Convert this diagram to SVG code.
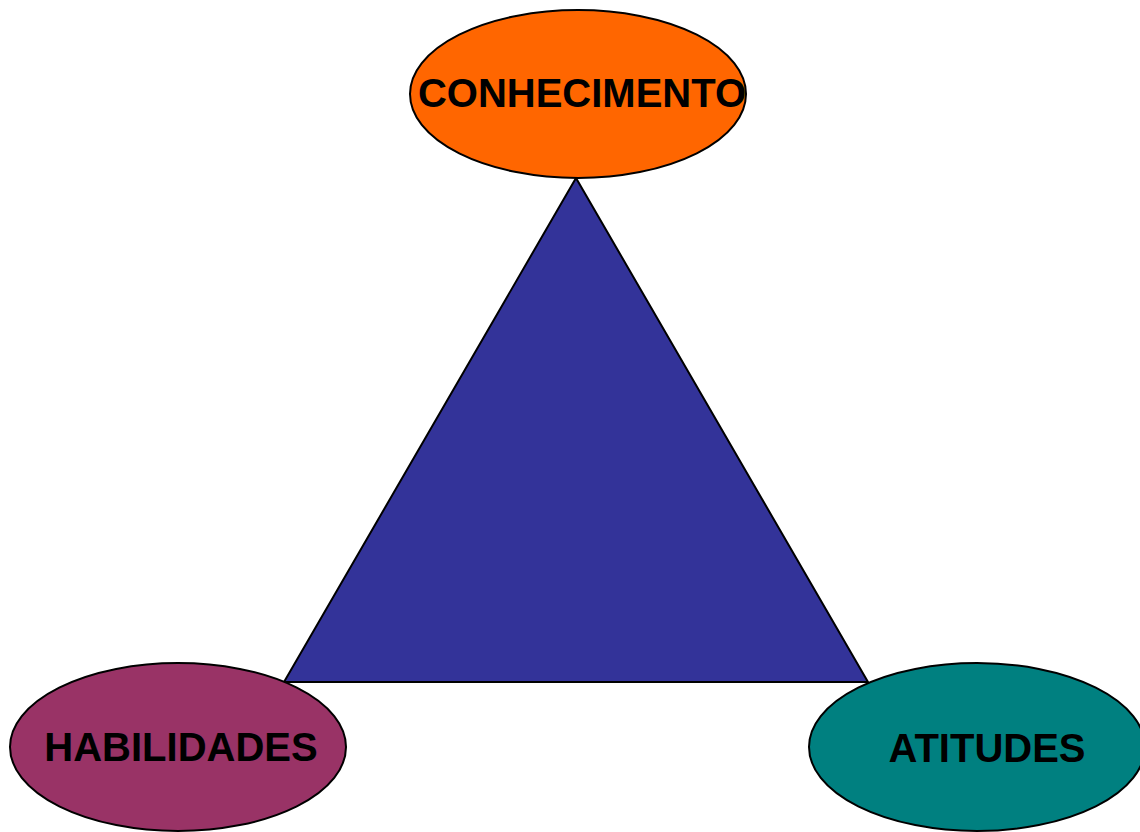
<svg xmlns="http://www.w3.org/2000/svg" width="1140" height="832" viewBox="0 0 1140 832">
<style>
.n{stroke:#000;stroke-width:2}
.t{font-family:"Liberation Sans",Arial,sans-serif;font-weight:bold;font-size:40px;fill:#000;text-anchor:middle}
</style>
<rect width="1140" height="832" fill="#fff"/>
<g id="connectors">
<polygon points="576,178 284,682 868,682" fill="#333399" stroke="#000" stroke-width="2"/>
</g>
<g id="conhecimento">
<ellipse class="n" cx="578" cy="94" rx="168" ry="84" fill="#FF6600"/>
<text class="t" x="582" y="107">CONHECIMENTO</text>
</g>
<g id="habilidades">
<ellipse class="n" cx="178" cy="747" rx="168" ry="84" fill="#993366"/>
<text class="t" x="181" y="761">HABILIDADES</text>
</g>
<g id="atitudes">
<ellipse class="n" cx="977" cy="747" rx="168" ry="84" fill="#008080"/>
<text class="t" x="987" y="762">ATITUDES</text>
</g>
</svg>
